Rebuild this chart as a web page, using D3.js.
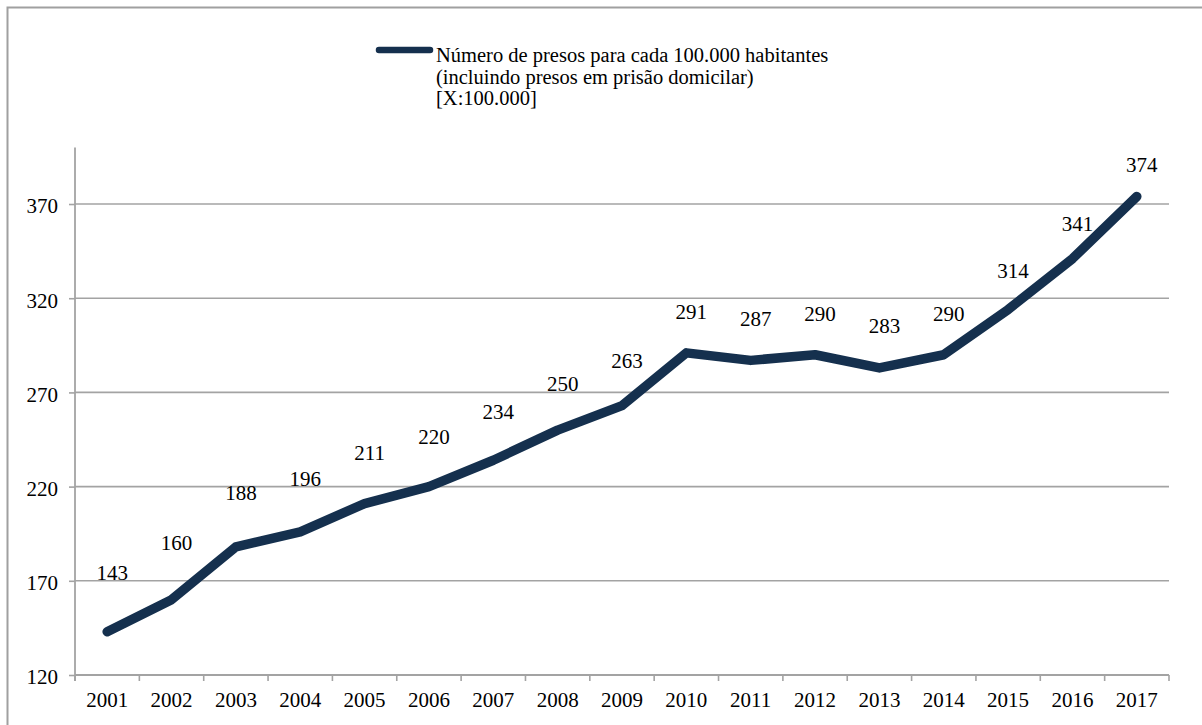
<!DOCTYPE html>
<html>
<head>
<meta charset="utf-8">
<script src="https://cdn.jsdelivr.net/npm/d3@7"></script>
<style>
  html, body { margin: 0; padding: 0; background: #fff; }
  svg { display: block; }
  text { font-family: "Liberation Serif", "Times New Roman", serif; fill: #000; }
</style>
</head>
<body>
<svg id="chart" width="1202" height="725"></svg>
<script>
// Prison population per 100,000 inhabitants, Brazil 2001–2017
const years = ["2001","2002","2003","2004","2005","2006","2007","2008","2009",
               "2010","2011","2012","2013","2014","2015","2016","2017"];
const presos = [143,160,188,196,211,220,234,250,263,291,287,290,283,290,314,341,374];
const yTicks = [120,170,220,270,320,370];
const legendLines = ["Número de presos para cada 100.000 habitantes",
                     "(incluindo presos em prisão domicilar)",
                     "[X:100.000]"];

const svg = d3.select("#chart");
const W = 1202, H = 725;
const plot = { left: 75, right: 1169, top: 147.5, bottom: 675 };
const lineColor = "#15304e";
const gridColor = "#a3a3a3";
const fontSize = 21;

// outer frame (only top and left edges fall inside the canvas)
svg.append("rect")
  .attr("x", 7.5).attr("y", 7.5)
  .attr("width", W + 50).attr("height", H + 50)
  .attr("fill", "none").attr("stroke", "#a0a0a0").attr("stroke-width", 2);

const x = d3.scaleBand().domain(years).range([plot.left, plot.right]);
const y = d3.scaleLinear().domain([120, 400]).range([plot.bottom, plot.top]);
const cx = d => x(d) + x.bandwidth() / 2;

// horizontal gridlines
svg.append("g").selectAll("line")
  .data(yTicks.filter(t => t > 120))
  .join("line")
  .attr("x1", plot.left).attr("x2", plot.right)
  .attr("y1", d => y(d)).attr("y2", d => y(d))
  .attr("stroke", gridColor).attr("stroke-width", 1.6);

// y axis
const yAxis = svg.append("g")
  .attr("transform", `translate(${plot.left},0)`)
  .call(d3.axisLeft(y).tickValues(yTicks).tickSize(6).tickPadding(11).tickFormat(d3.format("d")));
yAxis.select(".domain").attr("stroke", gridColor).attr("stroke-width", 1.8)
  .attr("d", `M0,${plot.top}V${plot.bottom + 6}`);
yAxis.selectAll(".tick line").attr("stroke", gridColor).attr("stroke-width", 1.6);
yAxis.selectAll(".tick text")
  .attr("font-family", "Liberation Serif, Times New Roman, serif")
  .attr("font-size", fontSize).attr("fill", "#000").attr("dy", "0.42em");

// x axis: baseline, ticks at category boundaries, centred labels
const xg = svg.append("g");
xg.append("line")
  .attr("x1", plot.left).attr("x2", plot.right)
  .attr("y1", plot.bottom).attr("y2", plot.bottom)
  .attr("stroke", gridColor).attr("stroke-width", 1.8);
const bounds = years.map(d => x(d)).concat([x.range()[1]]);
xg.selectAll("line.tick")
  .data(bounds)
  .join("line").attr("class", "tick")
  .attr("x1", d => d).attr("x2", d => d)
  .attr("y1", plot.bottom).attr("y2", plot.bottom + 6)
  .attr("stroke", gridColor).attr("stroke-width", 1.6);
xg.selectAll("text")
  .data(years)
  .join("text")
  .attr("x", d => cx(d)).attr("y", plot.bottom + 32)
  .attr("text-anchor", "middle").attr("font-size", fontSize)
  .text(d => d);

// data line
const series = years.map((yr, i) => ({ year: yr, value: presos[i] }));
svg.append("path")
  .datum(series)
  .attr("fill", "none")
  .attr("stroke", lineColor).attr("stroke-width", 9.5)
  .attr("stroke-linejoin", "round").attr("stroke-linecap", "round")
  .attr("d", d3.line().x(d => cx(d.year)).y(d => y(d.value)));

// value labels above the line
const lift = d3.scaleLinear().domain(d3.extent(presos)).range([52, 24]);
svg.append("g").selectAll("text")
  .data(series)
  .join("text")
  .attr("x", d => cx(d.year) + 5)
  .attr("y", d => y(d.value) - lift(d.value))
  .attr("text-anchor", "middle").attr("font-size", fontSize)
  .text(d => d.value);

// legend
const lg = svg.append("g");
lg.append("line")
  .attr("x1", 379).attr("x2", 430).attr("y1", 50).attr("y2", 50)
  .attr("stroke", lineColor).attr("stroke-width", 6.5).attr("stroke-linecap", "round");
lg.selectAll("text")
  .data(legendLines)
  .join("text")
  .attr("x", 436).attr("y", (d, i) => 62 + i * 21.5)
  .attr("font-size", 20.5)
  .text(d => d);
</script>
</body>
</html>
